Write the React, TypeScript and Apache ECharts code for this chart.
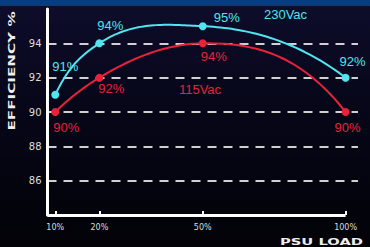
import React, { useEffect, useRef } from "react";
import * as echarts from "echarts";

// Load points and their position on the chart's (non-linear) load scale, 0..100
const loadLabels = ["10%", "20%", "50%", "100%"];
const loadScale = [2.5, 16.7, 50, 96];
// Efficiency (%)
const eff230 = [91, 94, 95, 92];
const eff115 = [90, 92, 94, 90];
const seriesNames = ["230Vac", "115Vac"];
const yTicks = [84, 86, 88, 90, 92, 94, 96];

const CYAN = "#52e4ef";
const RED = "#e8223a";

const cyanOffsets: [number, number][] = [[10, -28], [11, -18], [24, -9], [7, -16]];
const redOffsets: [number, number][] = [[11, 15], [12, 11], [11, 13], [2, 15]];

type Pt = number[];

// slope (dy/dx) of the tangent at P of the circle through A, B, C
function circleSlope(A: Pt, B: Pt, C: Pt, P: Pt): number {
  const d = 2 * (A[0] * (B[1] - C[1]) + B[0] * (C[1] - A[1]) + C[0] * (A[1] - B[1]));
  if (Math.abs(d) < 1e-9) return (C[1] - A[1]) / (C[0] - A[0]);
  const a2 = A[0] * A[0] + A[1] * A[1];
  const b2 = B[0] * B[0] + B[1] * B[1];
  const c2 = C[0] * C[0] + C[1] * C[1];
  const ux = (a2 * (B[1] - C[1]) + b2 * (C[1] - A[1]) + c2 * (A[1] - B[1])) / d;
  const uy = (a2 * (C[0] - B[0]) + b2 * (A[0] - C[0]) + c2 * (B[0] - A[0])) / d;
  const dy = P[1] - uy;
  if (Math.abs(dy) < 1e-9) return (C[1] - A[1]) / (C[0] - A[0]);
  return -(P[0] - ux) / dy;
}

// smooth curve through pixel points (x increasing), cubic Hermite with arc tangents
function curvePoints(P: Pt[]): Pt[] {
  const n = P.length;
  const m: number[] = [];
  for (let i = 0; i < n; i++) {
    if (i === 0) m.push(circleSlope(P[0], P[1], P[2], P[0]));
    else if (i === n - 1) m.push(circleSlope(P[n - 3], P[n - 2], P[n - 1], P[n - 1]));
    else m.push(circleSlope(P[i - 1], P[i], P[i + 1], P[i]));
  }
  const out: Pt[] = [];
  for (let i = 0; i < n - 1; i++) {
    const h = P[i + 1][0] - P[i][0];
    const steps = 40;
    for (let k = i === 0 ? 0 : 1; k <= steps; k++) {
      const t = k / steps;
      const t2 = t * t, t3 = t2 * t;
      const y =
        (2 * t3 - 3 * t2 + 1) * P[i][1] +
        (t3 - 2 * t2 + t) * h * m[i] +
        (-2 * t3 + 3 * t2) * P[i + 1][1] +
        (t3 - t2) * h * m[i + 1];
      out.push([P[i][0] + t * h, y]);
    }
  }
  return out;
}

export default function App() {
  const ref = useRef<HTMLDivElement>(null);
  useEffect(() => {
    if (!ref.current) return;
    const chart = echarts.init(ref.current, null, { renderer: "svg" });
    const mk = (vals: number[], offs: [number, number][]) =>
      vals.map((v, i) => ({
        value: [loadScale[i], v],
        label: { offset: offs[i] },
      }));
    const lbl = (color: string) => ({
      show: true,
      position: "inside",
      color,
      fontSize: 13,
      fontFamily: "Liberation Sans",
      formatter: (p: any) => p.value[1] + "%",
    });
    const curveSeries = (vals: number[], color: string, z: number) => ({
      type: "custom",
      silent: true,
      z,
      encode: { x: 0, y: 1 },
      data: vals.map((v, i) => [loadScale[i], v]),
      renderItem: (params: any, api: any) => {
        if (params.dataIndex !== 0) return null;
        const px = vals.map((v, i) => api.coord([loadScale[i], v]));
        return {
          type: "polyline",
          shape: { points: curvePoints(px) },
          style: { stroke: color, lineWidth: 2, fill: null },
        };
      },
    });
    chart.setOption({
      animation: false,
      backgroundColor: {
        type: "linear", x: 0, y: 0, x2: 0, y2: 1,
        colorStops: [
          { offset: 0, color: "#0e0d2c" },
          { offset: 0.4, color: "#07071a" },
          { offset: 1, color: "#020207" },
        ],
      },
      grid: { left: 47.5, right: 12, top: 9, bottom: 32 },
      xAxis: {
        type: "value",
        min: 0,
        max: 100,
        axisLine: { show: false },
        splitLine: { show: false },
        axisTick: {
          show: true,
          inside: true,
          length: 4,
          customValues: loadScale,
          lineStyle: { color: "#ffffff", width: 2 },
        },
        axisLabel: {
          customValues: loadScale,
          formatter: (v: number) => {
            const i = loadScale.indexOf(v);
            return i >= 0 ? loadLabels[i] : "";
          },
          color: "#dddddd",
          fontSize: 8,
          fontFamily: "DejaVu Sans",
          margin: 8,
        },
      },
      yAxis: {
        type: "value",
        min: yTicks[0],
        max: yTicks[yTicks.length - 1],
        interval: 2,
        axisLine: { show: true, lineStyle: { color: "#ffffff", width: 3 } },
        axisTick: { show: false },
        axisLabel: {
          color: "#dddddd",
          fontSize: 10,
          fontFamily: "DejaVu Sans",
          margin: 6,
          formatter: (v: number) => (v === 84 || v === 96 ? "" : String(v)),
        },
        splitLine: {
          show: true,
          lineStyle: { color: "#d0d0d0", width: 2, type: [9, 7] },
          showMinLine: false,
          showMaxLine: false,
        },
      },
      series: [
        curveSeries(eff230, CYAN, 3),
        curveSeries(eff115, RED, 2),
        {
          name: seriesNames[0],
          type: "line",
          symbol: "circle",
          symbolSize: 8,
          itemStyle: { color: CYAN },
          lineStyle: { opacity: 0 },
          label: lbl(CYAN),
          data: mk(eff230, cyanOffsets),
          z: 5,
        },
        {
          name: seriesNames[1],
          type: "line",
          symbol: "circle",
          symbolSize: 8,
          itemStyle: { color: RED },
          lineStyle: { opacity: 0 },
          label: lbl(RED),
          data: mk(eff115, redOffsets),
          markLine: {
            silent: true,
            symbol: "none",
            label: { show: false },
            lineStyle: { color: "#ffffff", width: 3, type: "solid", opacity: 1 },
            data: [[{ coord: [0, yTicks[0]] }, { coord: [loadScale[3], yTicks[0]] }]],
          },
          z: 4,
        },
      ],
      graphic: [
        { type: "rect", left: 0, top: 0, shape: { width: 370, height: 6 }, style: { fill: "#0a3c7c" } },
        {
          type: "text", x: 12, y: 71, rotation: Math.PI / 2, scaleX: 1.9,
          style: { text: "EFFICIENCY %", fill: "#eeeeee", font: "bold 8px 'DejaVu Sans'", align: "center", verticalAlign: "middle" },
        },
        {
          type: "text", x: 280, y: 242, scaleX: 1.55,
          style: { text: "PSU LOAD", fill: "#eeeeee", font: "bold 9.5px 'DejaVu Sans'", align: "left", verticalAlign: "middle" },
        },
        {
          type: "text", x: 285.5, y: 14,
          style: { text: seriesNames[0], fill: CYAN, font: "13px 'Liberation Sans'", align: "center", verticalAlign: "middle" },
        },
        {
          type: "text", x: 200, y: 89,
          style: { text: seriesNames[1], fill: RED, font: "13px 'Liberation Sans'", align: "center", verticalAlign: "middle" },
        },
      ],
    });
    return () => chart.dispose();
  }, []);
  return <div ref={ref} style={{ position: "fixed", left: 0, top: 0, width: 370, height: 247 }} />;
}
